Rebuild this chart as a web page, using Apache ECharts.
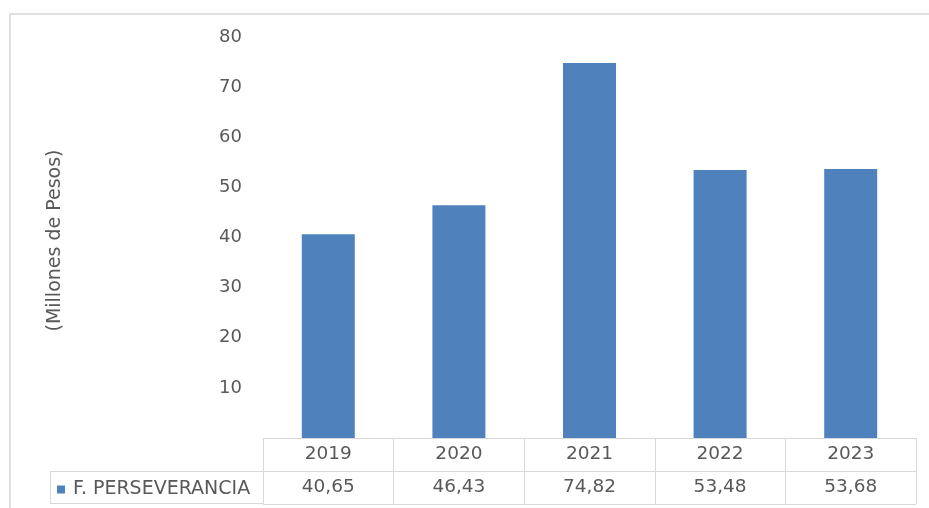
<!DOCTYPE html>
<html><head><meta charset="utf-8">
<script src="https://cdn.jsdelivr.net/npm/echarts@6/dist/echarts.min.js"></script>
<style>html,body{margin:0;padding:0;background:#fff}#c{width:929px;height:508px}</style>
</head><body><div id="c"></div>
<script>
var categories = ['2019', '2020', '2021', '2022', '2023'];
var values = [40.65, 46.43, 74.82, 53.48, 53.68];
var seriesName = 'F. PERSEVERANCIA';
var yTicks = [0, 10, 20, 30, 40, 50, 60, 70, 80];
var yTitle = '(Millones de Pesos)';

var txt = '#595959', line = '#d9d9d9', FONT = '"DejaVu Sans"', FS = 18.5;
function fmt(v){ return v.toFixed(2).replace('.', ','); }

var chart = echarts.init(document.getElementById('c'), null, {renderer:'canvas'});
chart.setOption({
  animation:false,
  backgroundColor:'#fff',
  textStyle:{fontFamily:FONT},
  grid:[
    {left:263, right:13, top:37, bottom:70},
    {left:263, right:13, top:438, height:66}
  ],
  legend:{
    data:[seriesName], left:52, top:475, icon:'rect', itemWidth:8, itemHeight:8, itemGap:0,
    textStyle:{color:txt, fontSize:19, fontFamily:FONT, padding:[0,0,0,3]}
  },
  xAxis:[
    {type:'category', gridIndex:0, data:categories, axisLine:{show:false}, axisTick:{show:false}, axisLabel:{show:false}},
    {type:'category', gridIndex:1, data:categories, axisLine:{show:false}, axisTick:{show:false}, axisLabel:{show:false},
     splitLine:{show:true, interval:0, lineStyle:{color:line, width:1}}}
  ],
  yAxis:[
    {type:'value', gridIndex:0, min:yTicks[0], max:yTicks[yTicks.length-1], interval:10,
     name:yTitle, nameLocation:'middle', nameRotate:90, nameGap:198,
     nameTextStyle:{color:txt, fontSize:19, fontFamily:FONT, padding:[0,6,0,0]},
     axisLine:{show:false}, axisTick:{show:false}, splitLine:{show:false},
     axisLabel:{color:txt, fontSize:18, fontFamily:FONT, margin:21, padding:[2,0,0,0], formatter:function(v){return v===0?'':String(v);}}},
    {type:'value', gridIndex:1, min:0, max:2, interval:1, axisLine:{show:false}, axisTick:{show:false}, axisLabel:{show:false},
     splitLine:{show:true, lineStyle:{color:line, width:1}}}
  ],
  series:[
    {name:seriesName, type:'bar', xAxisIndex:0, yAxisIndex:0, data:values, barWidth:53, itemStyle:{color:'#4f81bd'}},
    {type:'scatter', xAxisIndex:1, yAxisIndex:1, symbolSize:0, silent:true, itemStyle:{opacity:1},
     data:categories.map(function(c,i){return [i,1.5,c];}),
     label:{show:true, position:'inside', color:txt, fontSize:FS, fontFamily:FONT, formatter:function(p){return p.data[2];}}},
    {type:'scatter', xAxisIndex:1, yAxisIndex:1, symbolSize:0, silent:true, itemStyle:{opacity:1},
     data:values.map(function(v,i){return [i,0.5,v];}),
     label:{show:true, position:'inside', color:txt, fontSize:FS, fontFamily:FONT, formatter:function(p){return fmt(p.data[2]);}}}
  ],
  graphic:[
    {type:'rect', shape:{x:10, y:13, width:919, height:2}, style:{fill:'#e0e0e0'}, silent:true},
    {type:'rect', shape:{x:9, y:13, width:2, height:495}, style:{fill:'#e0e0e0'}, silent:true},
    {type:'line', shape:{x1:50, y1:471.5, x2:263, y2:471.5}, style:{stroke:line, lineWidth:1}, silent:true},
    {type:'line', shape:{x1:50, y1:503.5, x2:263, y2:503.5}, style:{stroke:line, lineWidth:1}, silent:true},
    {type:'line', shape:{x1:50.5, y1:471, x2:50.5, y2:504}, style:{stroke:line, lineWidth:1}, silent:true},
    {type:'line', shape:{x1:263.5, y1:438, x2:263.5, y2:504}, style:{stroke:line, lineWidth:1}, silent:true},
    {type:'line', shape:{x1:916.5, y1:438, x2:916.5, y2:504}, style:{stroke:line, lineWidth:1}, silent:true}
  ]
});
</script></body></html>
